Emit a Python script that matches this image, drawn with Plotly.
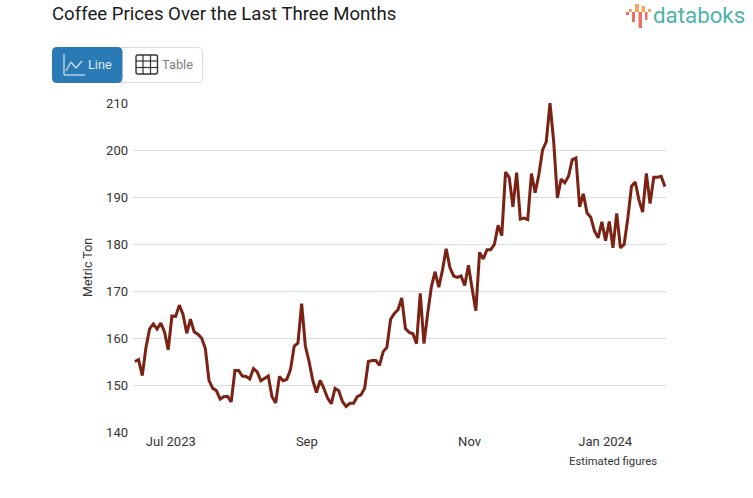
import plotly.graph_objects as go

prices = [155, 155.4, 152, 158, 162, 163, 161.9, 163.2, 161.3, 157.5, 164.7, 164.6, 167, 165, 161, 164, 161.3, 160.8,
          160, 157.8, 151, 149.3, 148.8, 147, 147.5, 147.6, 146.4, 153.1, 153.1, 151.9, 151.8, 151.3, 153.5, 152.8,
          150.9, 151.4, 151.9, 147.5, 146.2, 151.8, 150.9, 151.2, 153.3, 158.3, 158.9, 167.3,
          158.3, 155, 151, 148.4, 151, 149.3, 147.2, 146, 149.3, 148.8, 146.5, 145.4, 146.1, 146.1, 147.5, 147.9, 149.3,
          155, 155.2, 155.2, 154.2, 157.1, 158, 164, 165.2, 166, 168.5, 162, 161.2, 160.9, 158.8, 169.5, 158.8, 165.2,
          170.9, 174.1, 170.8, 174.5, 179, 175, 173.2, 172.9, 173.2, 171.2, 175.5, 170.5, 165.8, 178.2, 176.8,
          178.8, 178.8, 179.9, 184, 181.8, 195.3, 194.2, 187.9, 195.2, 185.3, 185.5, 185.2, 195, 190.9, 194.8, 200,
          201.8, 210, 201.8, 189.8, 193.8, 193, 194.4, 197.9, 198.3, 187.9, 190.7, 186.6, 185.7, 182.8, 181.3, 184.7,
          180.7, 184.8, 179.2, 186.5, 179.2, 179.9, 185.5, 192.3, 193.2, 189.4, 186.8, 195, 188.6, 194.2, 194.2, 194.4,
          192.2]
tick_positions = [9.7, 46.4, 90.3, 126.9]
tick_labels = ["Jul 2023", "Sep", "Nov", "Jan 2024"]
y_ticks = [140, 150, 160, 170, 180, 190, 200, 210]

W, H = 753, 498
L, R, T, B = 133, 87, 103, 66
FONT = "Roboto, sans-serif"
RED, ORANGE = "#ec6f62", "#f2a65e"


def px(x):
    return (x - L) / (W - L - R)


def py(y):
    return 1 - (y - T) / (H - T - B)


def rect(x0, y0, x1, y1, color):
    return dict(type="rect", xref="paper", yref="paper", x0=px(x0), x1=px(x1), y0=py(y0), y1=py(y1),
                layer="above", fillcolor=color, line_width=0)


def seg(x0, y0, x1, y1, color, width=1.0):
    return dict(type="line", xref="paper", yref="paper", x0=px(x0), x1=px(x1), y0=py(y0), y1=py(y1),
                line=dict(color=color, width=width), layer="above")


def rounded(x0, y0, x1, y1, r):
    xa, xb, ya, yb = px(x0), px(x1), py(y0), py(y1)
    rx, ry = r / (W - L - R), r / (H - T - B)
    return (f"M{xa + rx},{ya} L{xb - rx},{ya} Q{xb},{ya} {xb},{ya - ry} L{xb},{yb + ry} Q{xb},{yb} {xb - rx},{yb} "
            f"L{xa + rx},{yb} Q{xa},{yb} {xa},{yb + ry} L{xa},{ya - ry} Q{xa},{ya} {xa + rx},{ya} Z")


def note(x, y, text, size, color, anchor="left", **kw):
    return dict(xref="paper", yref="paper", x=px(x), y=py(y), text=text, showarrow=False, xanchor=anchor,
                yanchor="middle", font=dict(family=kw.pop("family", FONT), size=size, color=color), **kw)


shapes = [
    dict(type="path", xref="paper", yref="paper", path=rounded(52.5, 47.5, 202.5, 82.5, 4),
         line=dict(color="#dcdcdc", width=1), fillcolor="#ffffff", layer="above"),
    dict(type="path", xref="paper", yref="paper", path=rounded(52.5, 47.5, 122, 82.5, 4),
         line=dict(color="#2a7ab5", width=1), fillcolor="#2a7ab5", layer="above"),
    seg(64, 54, 64, 75, "#d5e5f1", 1.2), seg(64, 75, 85, 75, "#d5e5f1", 1.2),
    seg(66, 71, 71, 62, "#d5e5f1", 1.2), seg(71, 62, 76, 68, "#d5e5f1", 1.2), seg(76, 68, 82, 61, "#d5e5f1", 1.2),
    dict(type="path", xref="paper", yref="paper", path=rounded(136, 55, 157.5, 74, 2),
         line=dict(color="#333333", width=1.4), fillcolor="rgba(0,0,0,0)", layer="above"),
    seg(143, 55, 143, 74, "#333333", 1.2), seg(150.5, 55, 150.5, 74, "#333333", 1.2),
    seg(136, 61, 157.5, 61, "#333333", 1.2), seg(136, 67.5, 157.5, 67.5, "#333333", 1.2),
    # logo
    rect(626, 12, 629, 15, RED),
    rect(629, 9, 632, 12, ORANGE),
    rect(632, 12, 635, 22, RED),
    rect(635, 4, 639, 12, ORANGE),
    rect(638.5, 12, 642, 28, RED),
    rect(641.5, 6, 645, 12, ORANGE),
    rect(645, 12, 647.5, 20, RED),
    rect(648, 9, 651, 12, ORANGE),
]

annotations = [
    note(50, 14, "Coffee Prices Over the Last Three Months", 18.6, "#1a1a1a"),
    note(86, 64.5, "Line", 12.7, "#dfeaf3"),
    note(160, 64.5, "Table", 12.8, "#808080"),
    note(651, 15, "databoks", 22.3, "#4db3a8"),
    note(567, 461, "Estimated figures", 11.3, "#333333"),
    note(87, 268, "Metric Ton", 12.5, "#333333", anchor="center", textangle=-90),
]

fig = go.Figure(go.Scatter(
    x=list(range(len(prices))), y=prices, mode="lines",
    line=dict(color="#7a2214", width=3), cliponaxis=False, hoverinfo="y",
))
fig.update_layout(
    width=W, height=H, margin=dict(l=L, r=R, t=T, b=B, pad=0, autoexpand=False),
    paper_bgcolor="#ffffff", plot_bgcolor="#ffffff", showlegend=False,
    font=dict(family=FONT, size=13, color="#333333"),
    shapes=shapes, annotations=annotations,
    xaxis=dict(range=[-0.5, len(prices) - 0.7], tickmode="array", tickvals=tick_positions, ticktext=tick_labels,
               showgrid=False, zeroline=False, showline=False, ticks="", tickfont=dict(size=13, color="#333333")),
    yaxis=dict(range=[140, 210], tickmode="array", tickvals=y_ticks, gridcolor="#dddddd", gridwidth=1,
               zeroline=False, showline=False, ticks="", ticklabelstandoff=4,
               tickfont=dict(size=13, color="#333333")),
)
fig.write_html("out.html", config=dict(displayModeBar=False),
               post_script="document.body.style.margin='0';")
